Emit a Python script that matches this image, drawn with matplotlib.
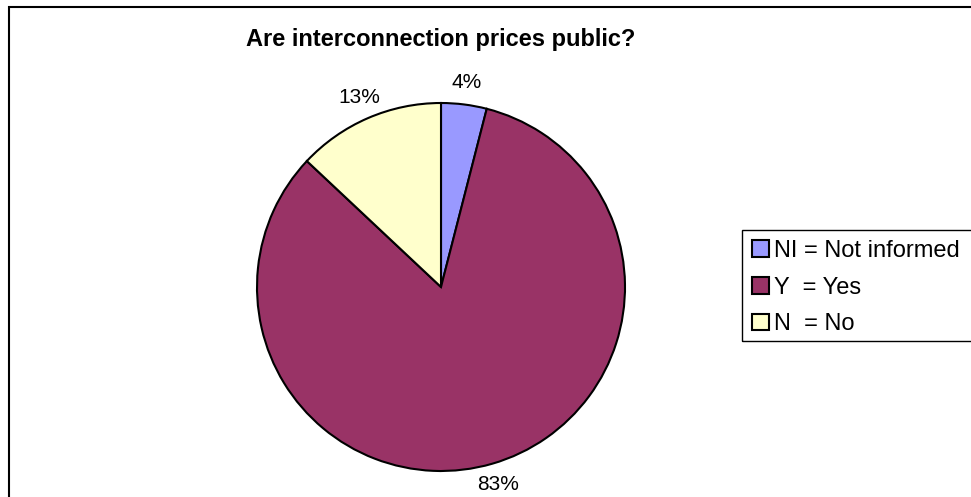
import matplotlib.pyplot as plt
from matplotlib.patches import Rectangle

plt.rcParams['font.family'] = ['Liberation Sans', 'DejaVu Sans']

labels = ['NI = Not informed', 'Y  = Yes', 'N  = No']
shares = [4, 83, 13]
colors = ['#9999FF', '#993366', '#FFFFCC']

W, H = 971, 497
fig = plt.figure(figsize=(W / 100, H / 100), dpi=100)


def px_box(x0, y0, x1, y1, **kw):
    # rectangle given in pixel coords measured from the top-left corner
    return Rectangle((x0 / W, 1 - y1 / H), (x1 - x0) / W, (y1 - y0) / H,
                     transform=fig.transFigure, fill=False,
                     edgecolor='black', **kw)


# outer chart-area frame (runs off the right and bottom edges)
fig.patches.append(px_box(8.5, 6.5, W + 20, H + 20, linewidth=1.5))

cx, cy, r = 441, 287, 184
ax = fig.add_axes([(cx - r) / W, (H - cy - r) / H, 2 * r / W, 2 * r / H])
wedges, _, pct = ax.pie(shares, colors=colors, startangle=90,
                        counterclock=False, autopct='%1.0f%%',
                        pctdistance=1.12,
                        wedgeprops=dict(edgecolor='black', linewidth=1.5),
                        textprops=dict(fontsize=15))
ax.set_xlim(-1, 1)
ax.set_ylim(-1, 1)
ax.set_aspect('equal')

fig.text(cx / W, 1 - 46 / H, 'Are interconnection prices public?',
         ha='center', va='baseline', fontsize=17, fontweight='bold')

# legend box also runs past the right edge
fig.patches.append(px_box(742, 230, W + 20, 341, linewidth=1.0))
leg = fig.legend(wedges, labels, loc='upper left',
                 bbox_to_anchor=(742 / W, 1 - 230 / H),
                 frameon=False, fontsize=17,
                 handlelength=0.72, handleheight=0.7, handletextpad=0.22,
                 labelspacing=0.62, borderpad=0.42, borderaxespad=0)
for h in leg.legend_handles:
    h.set_linewidth(1.5)

fig.savefig('out.png', dpi=100)
